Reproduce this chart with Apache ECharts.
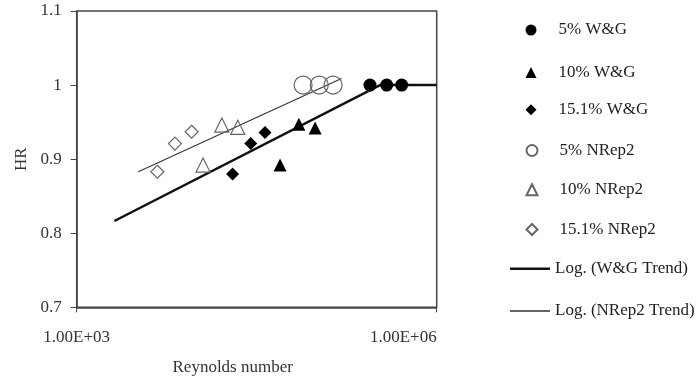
<!DOCTYPE html>
<html>
<head>
<meta charset="utf-8">
<script src="https://cdn.jsdelivr.net/npm/echarts@6/dist/echarts.min.js"></script>
<style>html,body{margin:0;padding:0;background:#fff}#c{width:700px;height:383px}</style>
</head>
<body>
<div id="c"></div>
<script>
// ---- data (Reynolds number, HR) ----
const wg5 = [[2.78e5, 1.0], [3.83e5, 1.0], [5.11e5, 1.0]];
const wg10 = [[7.1e4, 0.947], [9.7e4, 0.942], [4.95e4, 0.892]];
const wg151 = [[1.99e4, 0.880], [2.82e4, 0.921], [3.71e4, 0.936]];
const nr5 = [[7.7e4, 1.0], [1.05e5, 1.0], [1.37e5, 1.0]];
const nr10 = [[1.62e4, 0.946], [2.20e4, 0.943], [1.13e4, 0.892]];
const nr151 = [[4.70e3, 0.883], [6.59e3, 0.921], [9.08e3, 0.937]];
const wgTrend = [[2.06e3, 0.8165], [3.37e5, 1.0], [1.0e6, 1.0]];
const nrTrend = [[3.26e3, 0.883], [1.61e5, 1.009]];
const seriesNames = ['5% W&G', '10% W&G', '15.1% W&G', '5% NRep2', '10% NRep2', '15.1% NRep2', 'Log. (W&G Trend)', 'Log. (NRep2 Trend)'];
const xTickLabels = {1000: '1.00E+03', 1000000: '1.00E+06'};
const yTicks = [0.7, 0.8, 0.9, 1.0, 1.1];

// ---- layout ----
const font = 'Liberation Serif';
const fs = 17;
const legendCenters = [30, 72.5, 109.7, 150.5, 189.7, 229.5, 268.7, 311];

const chart = echarts.init(document.getElementById('c'), null, {renderer: 'canvas'});
const filled = {color: '#000', borderWidth: 0, opacity: 1};
const open = {color: 'transparent', borderColor: '#666', borderWidth: 1.2, opacity: 1};
function sc(name, data, symbol, size, style) {
  return {name, type: 'scatter', data, symbol, symbolSize: size, itemStyle: style, z: 3};
}
const legends = seriesNames.map((name, i) => {
  const isLine = i >= 6;
  return {
    orient: 'vertical',
    padding: 0,
    left: isLine ? 510 : 525.5,
    top: legendCenters[i] - fs / 2,
    itemWidth: isLine ? 40 : 11,
    itemHeight: isLine ? (i === 6 ? 2.5 : 1.4) : 11,
    icon: isLine ? 'rect' : undefined,
    data: [name],
    selectedMode: false,
    textStyle: {fontFamily: font, fontSize: fs, lineHeight: fs, color: '#222', padding: [0, 0, 0, isLine ? 0 : 17]}
  };
});
chart.setOption({
  animation: false,
  backgroundColor: '#fff',
  grid: {left: 76.7, right: 263.3, top: 11, bottom: 75.7, show: true, borderColor: '#444', borderWidth: 1.5, backgroundColor: 'transparent'},
  xAxis: {
    type: 'log', logBase: 10, min: 1000, max: 1e6, interval: 3,
    name: 'Reynolds number', nameLocation: 'middle', nameGap: 52,
    nameTextStyle: {fontFamily: font, fontSize: fs, color: '#333', padding: [0, 48, 0, 0]},
    axisLine: {lineStyle: {color: '#444', width: 1.5}},
    axisTick: {show: true, length: 5, lineStyle: {color: '#444'}},
    minorTick: {show: false},
    splitLine: {show: false},
    axisLabel: {
      fontFamily: font, fontSize: fs, color: '#333', margin: 22,
      alignMaxLabel: 'right', alignMinLabel: 'center',
      formatter: v => xTickLabels[Math.round(v)] || ''
    }
  },
  yAxis: {
    type: 'value', min: yTicks[0], max: yTicks[yTicks.length - 1], interval: 0.1,
    name: 'HR', nameLocation: 'middle', nameGap: 46,
    nameTextStyle: {fontFamily: font, fontSize: fs, color: '#333'},
    axisLine: {show: true, lineStyle: {color: '#444', width: 1.5}},
    axisTick: {show: true, length: 6, lineStyle: {color: '#444'}},
    splitLine: {show: false},
    axisLabel: {fontFamily: font, fontSize: fs, color: '#333', margin: 15,
      formatter: v => String(Math.round(v * 10) / 10)}
  },
  legend: legends,
  series: [
    {name: seriesNames[6], type: 'line', data: wgTrend, symbol: 'none', lineStyle: {color: '#111', width: 2.5}, itemStyle: {color: '#111'}, z: 2},
    {name: seriesNames[7], type: 'line', data: nrTrend, symbol: 'none', lineStyle: {color: '#333', width: 1.1}, itemStyle: {color: '#333'}, z: 2},
    sc(seriesNames[0], wg5, 'circle', 13, filled),
    sc(seriesNames[1], wg10, 'triangle', 13, filled),
    sc(seriesNames[2], wg151, 'diamond', 13, filled),
    sc(seriesNames[3], nr5, 'circle', 18, open),
    sc(seriesNames[4], nr10, 'triangle', 14, open),
    sc(seriesNames[5], nr151, 'diamond', 13, open)
  ]
});
</script>
</body>
</html>
